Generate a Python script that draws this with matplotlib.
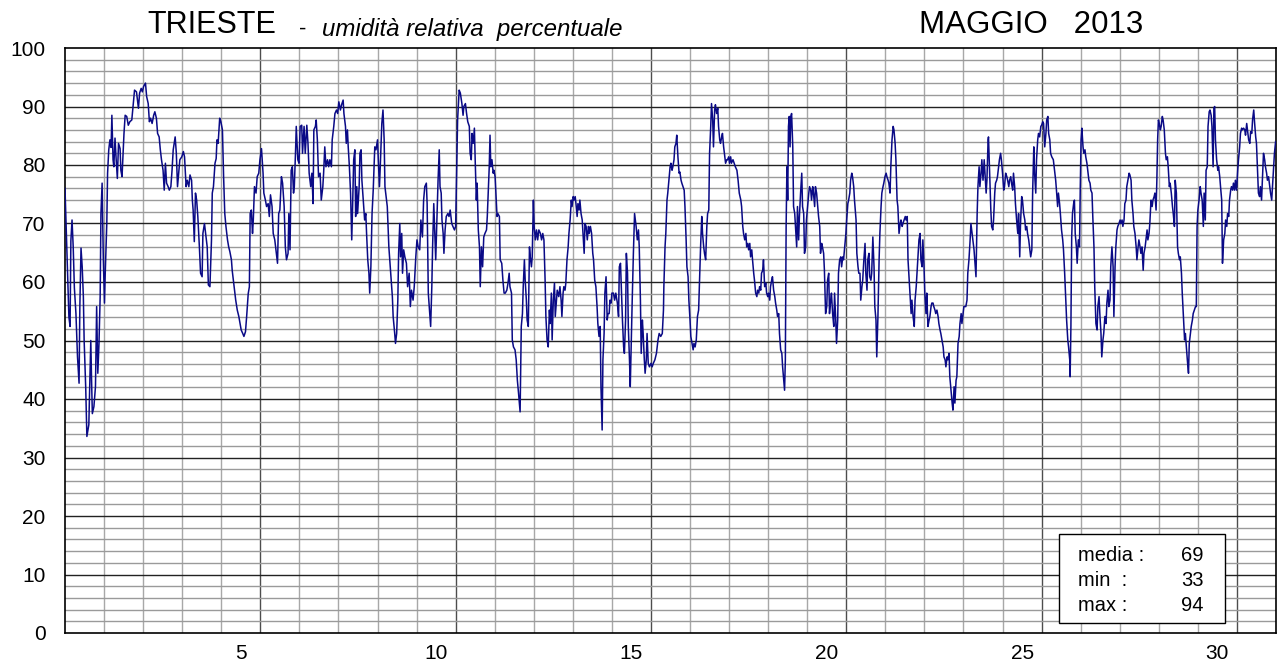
import matplotlib.pyplot as plt
from matplotlib.patches import Rectangle

# tempo in giorni dall'inizio del mese, umidita relativa (%)
giorno = [
    0.00, 0.04, 0.085, 0.10, 0.13, 0.15, 0.18, 0.21, 0.24, 0.28, 0.32, 0.36, 0.38, 0.41, 0.44, 0.47, 0.49, 0.53,
    0.56, 0.61, 0.66, 0.68, 0.70, 0.74, 0.78, 0.81, 0.84, 0.87, 0.90, 0.92, 0.95, 0.98, 1.01, 1.03, 1.07,
    1.09, 1.12, 1.15, 1.18, 1.20, 1.23, 1.25, 1.28, 1.31, 1.34, 1.37, 1.41, 1.43, 1.46, 1.48, 1.51, 1.54, 1.58,
    1.62, 1.66, 1.71, 1.75, 1.78, 1.83, 1.88, 1.91, 1.95, 1.98, 2.01, 2.06, 2.09, 2.13, 2.16, 2.19, 2.23, 2.27,
    2.30, 2.34, 2.37, 2.41, 2.44, 2.47, 2.51, 2.54, 2.57, 2.60, 2.64, 2.67, 2.71, 2.74, 2.77, 2.82, 2.85, 2.88,
    2.91, 2.94, 2.99, 3.03, 3.06, 3.10, 3.13, 3.17, 3.20, 3.24, 3.26, 3.28, 3.31, 3.34, 3.37, 3.40, 3.44, 3.47,
    3.51, 3.53, 3.57, 3.60, 3.64, 3.67, 3.71, 3.75, 3.77, 3.80, 3.84, 3.87, 3.89, 3.92, 3.96, 3.99, 4.03, 4.06,
    4.09, 4.12, 4.16, 4.19, 4.22, 4.26, 4.28, 4.31, 4.34, 4.37, 4.41, 4.45, 4.48, 4.51, 4.55, 4.58, 4.62, 4.65,
    4.69, 4.72, 4.74, 4.77, 4.80, 4.82, 4.85, 4.89, 4.92, 4.96, 4.99, 5.03,
    5.07, 5.09, 5.13, 5.16, 5.20, 5.23, 5.26, 5.30, 5.33, 5.37, 5.40, 5.44, 5.47, 5.50, 5.54, 5.57, 5.61, 5.64,
    5.67, 5.71, 5.73, 5.76, 5.79, 5.82, 5.85, 5.87, 5.90, 5.92, 5.96, 5.99, 6.02, 6.06, 6.08, 6.12, 6.15, 6.19,
    6.22, 6.25, 6.29, 6.32, 6.35, 6.37, 6.41, 6.43, 6.46, 6.49, 6.53, 6.56, 6.60, 6.62, 6.65, 6.68, 6.72, 6.75,
    6.78, 6.82, 6.84, 6.88, 6.91, 6.95, 6.98, 7.01, 7.05, 7.08, 7.12, 7.14, 7.18, 7.20, 7.23, 7.25, 7.28, 7.31,
    7.34, 7.36, 7.39, 7.42, 7.44, 7.47, 7.49, 7.53, 7.55, 7.58, 7.60, 7.64, 7.67, 7.70, 7.72, 7.75, 7.78, 7.80,
    7.83, 7.86, 7.89, 7.93, 7.96, 8.00, 8.02, 8.05, 8.07, 8.11, 8.14, 8.17, 8.19, 8.22, 8.25, 8.29, 8.32, 8.35,
    8.38, 8.40, 8.44, 8.46, 8.49, 8.52, 8.54, 8.57, 8.59, 8.62, 8.64, 8.67, 8.70, 8.74, 8.77, 8.81, 8.84, 8.87,
    8.91, 8.94, 8.98, 9.01, 9.04, 9.08, 9.11, 9.15, 9.18, 9.21, 9.25, 9.27, 9.30, 9.33, 9.36, 9.39, 9.41, 9.44,
    9.46, 9.49, 9.52, 9.55, 9.58, 9.60, 9.63, 9.65, 9.68, 9.70, 9.73, 9.76, 9.80, 9.83, 9.86, 9.90, 9.93, 9.97,
    10.00, 10.03, 10.05,
    10.09, 10.12, 10.16, 10.19, 10.21, 10.25, 10.28, 10.31, 10.35, 10.37, 10.40, 10.42, 10.45, 10.48, 10.50,
    10.53, 10.55, 10.58, 10.61, 10.63, 10.66, 10.69, 10.72, 10.75, 10.79, 10.81, 10.84, 10.86, 10.88, 10.90,
    10.93, 10.96, 10.98, 11.01, 11.03, 11.06, 11.08, 11.12, 11.14, 11.18, 11.21, 11.24, 11.27, 11.31, 11.34,
    11.37, 11.39, 11.43, 11.45, 11.48, 11.52, 11.55, 11.58, 11.61, 11.65, 11.68, 11.71, 11.73, 11.76, 11.78,
    11.81, 11.83, 11.86, 11.89, 11.91, 11.94, 11.96, 11.99, 12.01, 12.04, 12.07, 12.10, 12.13, 12.17, 12.20,
    12.23, 12.26, 12.29, 12.31, 12.34, 12.37, 12.40, 12.42, 12.45, 12.47, 12.50, 12.53, 12.55, 12.58, 12.60,
    12.64, 12.67, 12.70, 12.72, 12.75, 12.77, 12.80, 12.82, 12.85, 12.88, 12.90, 12.93, 12.96, 12.98, 13.01,
    13.03, 13.06, 13.08, 13.11, 13.13, 13.16, 13.18, 13.21, 13.24, 13.26, 13.29, 13.31, 13.34, 13.37, 13.40,
    13.42, 13.45, 13.48, 13.51, 13.53, 13.56, 13.59, 13.62, 13.64, 13.67, 13.70, 13.72, 13.75, 13.77, 13.80,
    13.82, 13.85, 13.88, 13.90, 13.93, 13.95, 13.98, 14.00, 14.04, 14.07, 14.10, 14.14, 14.17, 14.19, 14.22,
    14.24, 14.27, 14.30, 14.32, 14.35, 14.37, 14.40, 14.42, 14.45, 14.47, 14.50, 14.52, 14.55, 14.58, 14.60,
    14.62, 14.65, 14.68, 14.70, 14.73, 14.75, 14.78, 14.80, 14.83, 14.85, 14.88, 14.90, 14.93, 14.96, 15.00,
    15.03, 15.06, 15.10,
    15.14, 15.18, 15.21, 15.25, 15.29, 15.32, 15.33, 15.36, 15.38, 15.41, 15.43, 15.46, 15.49, 15.51, 15.54,
    15.56, 15.59, 15.61, 15.64, 15.66, 15.69, 15.72, 15.74, 15.77, 15.79, 15.82, 15.85, 15.87, 15.90, 15.92,
    15.95, 15.97, 16.00, 16.02, 16.05, 16.08, 16.10, 16.13, 16.16, 16.19, 16.22, 16.25, 16.27, 16.30, 16.32,
    16.35, 16.37, 16.40, 16.43, 16.45, 16.48, 16.50, 16.53, 16.55, 16.58, 16.60, 16.63, 16.65, 16.68, 16.71,
    16.73, 16.76, 16.78, 16.81, 16.83, 16.86, 16.89, 16.91, 16.94, 16.96, 16.99, 17.01, 17.04, 17.06, 17.10,
    17.13, 17.16, 17.20, 17.23, 17.26, 17.30, 17.32, 17.35, 17.37, 17.40, 17.43, 17.45, 17.48, 17.50, 17.53,
    17.55, 17.58, 17.60, 17.63, 17.65, 17.68, 17.71, 17.73, 17.76, 17.78, 17.81, 17.83, 17.86, 17.88, 17.91,
    17.94, 17.96, 17.99, 18.01, 18.04, 18.06, 18.09, 18.11, 18.14, 18.17, 18.19, 18.22, 18.24, 18.27, 18.29,
    18.32, 18.35, 18.37, 18.40, 18.42, 18.44, 18.46, 18.48, 18.50, 18.52, 18.54, 18.56, 18.58, 18.60, 18.63,
    18.65, 18.68, 18.70, 18.73, 18.75, 18.78, 18.80, 18.83, 18.86, 18.88, 18.91, 18.93, 18.96, 18.98, 19.01,
    19.04, 19.06, 19.09, 19.11, 19.14, 19.16, 19.19, 19.21, 19.24, 19.27, 19.29, 19.32, 19.34, 19.37, 19.39,
    19.42, 19.44, 19.47, 19.50, 19.52, 19.55, 19.57, 19.60, 19.62, 19.65, 19.68, 19.70, 19.73, 19.75, 19.78,
    19.80, 19.83, 19.86, 19.88, 19.91, 19.93, 19.96, 19.99, 20.01, 20.04, 20.06, 20.09, 20.11, 20.14, 20.16,
    20.19,
    20.21, 20.25, 20.27, 20.30, 20.32, 20.35, 20.37, 20.40, 20.42, 20.45, 20.48, 20.50, 20.53, 20.55, 20.58,
    20.60, 20.63, 20.65, 20.68, 20.71, 20.73, 20.76, 20.78, 20.81, 20.84, 20.86, 20.89, 20.91, 20.94, 20.96,
    20.99, 21.02, 21.04, 21.07, 21.09, 21.12, 21.14, 21.17, 21.20, 21.22, 21.25, 21.27, 21.30, 21.32, 21.35,
    21.38, 21.40, 21.43, 21.45, 21.48, 21.51, 21.53, 21.56, 21.58, 21.61, 21.63, 21.66, 21.68, 21.71, 21.74,
    21.76, 21.79, 21.81, 21.84, 21.86, 21.89, 21.91, 21.94, 21.96, 21.99, 22.01, 22.04, 22.06, 22.09, 22.12,
    22.14, 22.17, 22.19, 22.22, 22.24, 22.27, 22.29, 22.32, 22.35, 22.37, 22.40, 22.42, 22.45, 22.48, 22.50,
    22.53, 22.55, 22.58, 22.60, 22.63, 22.65, 22.68, 22.71, 22.73, 22.76, 22.78, 22.81, 22.83, 22.86, 22.89,
    22.91, 22.94, 22.96, 22.99, 23.01, 23.04, 23.06, 23.09, 23.11, 23.14, 23.17, 23.19, 23.22, 23.24, 23.27,
    23.30, 23.32, 23.35, 23.37, 23.40, 23.42, 23.45, 23.47, 23.50, 23.53, 23.55, 23.58, 23.60, 23.63, 23.64,
    23.67, 23.70, 23.72, 23.75, 23.77, 23.80, 23.82, 23.85, 23.87, 23.90, 23.92, 23.95, 23.97, 24.00, 24.03,
    24.05, 24.08, 24.11, 24.13, 24.16, 24.18, 24.21, 24.23, 24.26, 24.28, 24.31, 24.33, 24.36, 24.39, 24.41,
    24.44, 24.46, 24.49, 24.51, 24.54, 24.57, 24.59, 24.62, 24.64, 24.67, 24.69, 24.72, 24.75, 24.77, 24.80,
    24.82, 24.85, 24.87, 24.90, 24.92, 24.95, 24.98, 25.00, 25.03, 25.05, 25.08, 25.11, 25.13, 25.16, 25.18,
    25.21, 25.23,
    25.26, 25.30, 25.33, 25.36, 25.38, 25.41, 25.43, 25.46, 25.48, 25.51, 25.54, 25.56, 25.59, 25.62, 25.64,
    25.67, 25.69, 25.72, 25.73, 25.75, 25.77, 25.79, 25.82, 25.84, 25.86, 25.89, 25.91, 25.94, 25.97, 25.99,
    26.01, 26.03, 26.06, 26.08, 26.11, 26.13, 26.16, 26.19, 26.21, 26.24, 26.26, 26.29, 26.31, 26.34, 26.36,
    26.39, 26.42, 26.44, 26.47, 26.49, 26.52, 26.54, 26.57, 26.59, 26.62, 26.65, 26.67, 26.70, 26.72, 26.75,
    26.77, 26.80, 26.83, 26.85, 26.88, 26.90, 26.93, 26.95, 26.98, 27.01, 27.03, 27.06, 27.08, 27.11, 27.13,
    27.16, 27.18, 27.21, 27.24, 27.26, 27.29, 27.31, 27.34, 27.36, 27.39, 27.42, 27.44, 27.47, 27.49, 27.52,
    27.54, 27.57, 27.60, 27.62, 27.65, 27.67, 27.70, 27.72, 27.75, 27.77, 27.80, 27.83, 27.85, 27.88, 27.90,
    27.93, 27.95, 27.97, 27.99, 28.01, 28.04, 28.06, 28.09, 28.11, 28.14, 28.17, 28.19, 28.22, 28.24, 28.27,
    28.29, 28.32, 28.35, 28.37, 28.40, 28.42, 28.45, 28.48, 28.50, 28.53, 28.55, 28.58, 28.60, 28.63, 28.66,
    28.68, 28.71, 28.73, 28.76, 28.78, 28.81, 28.83, 28.86, 28.88, 28.91, 28.94, 28.96, 28.98, 29.00, 29.03,
    29.06, 29.08, 29.11, 29.14, 29.16, 29.19, 29.21, 29.24, 29.26, 29.29, 29.31, 29.34, 29.36, 29.39, 29.41,
    29.43, 29.45, 29.48, 29.51, 29.53, 29.56, 29.58, 29.61, 29.63, 29.66, 29.69, 29.71, 29.74, 29.76, 29.79,
    29.81, 29.84, 29.86, 29.89, 29.91, 29.94, 29.96, 29.99, 30.02, 30.04, 30.07, 30.09, 30.12, 30.14, 30.17,
    30.20, 30.22, 30.25, 30.27, 30.30, 30.33, 30.35, 30.38, 30.40, 30.43, 30.45, 30.48, 30.50, 30.53, 30.55,
    30.58, 30.60, 30.63, 30.66, 30.68, 30.71, 30.73, 30.76, 30.78, 30.81, 30.84, 30.86, 30.89, 30.91, 30.94,
    30.96, 30.99,
]

umidita = [
    76, 67, 57.5, 54, 52.4, 67, 70.6, 66, 59, 54.6, 47.2, 42.7, 55.8, 65.8, 62.6, 57.5, 50, 42,
    33.6, 35.6, 50, 43.2, 37.5, 38.7, 42.1, 55.8, 44.4, 49.5, 57.5, 71.7, 76.9, 64.3, 56.4, 61.5, 70,
    78.6, 82.6, 84.3, 83, 88.5, 80.9, 79.7, 84.6, 80.9, 77.7, 83.7, 82.8, 79.1, 78, 80.9, 85.4, 88.5, 88.3,
    86.8, 87.4, 87.7, 90.5, 92.8, 92.5, 89.7, 92.3, 93.1, 92.5, 93.4, 94, 91.7, 90.5, 87.4, 88, 87.1, 88.5,
    89.1, 88, 85.4, 84.8, 82.6, 80.9, 79.1, 75.7, 80.3, 76.9, 76.3, 75.7, 76.3, 79.1, 82.6, 84.8, 82, 76.3,
    78.6, 80.9, 81.4, 82.3, 81.4, 76.3, 77.4, 76.3, 78.3, 77.4, 74, 72.3, 66.9, 75.2, 74, 71.2, 66, 61.5,
    60.9, 68.3, 70, 68.3, 66, 59.5, 59.2, 67.2, 75.2, 76.3, 80.3, 81.1, 84.3, 83.7, 88, 87.4, 86, 78,
    71.7, 69.5, 67.2, 66, 65.2, 63.8, 62, 60.3, 58.6, 56.9, 55.2, 54.1, 52.9, 51.8, 51.2, 50.7, 51.5, 54.1,
    58, 59.2, 71.7, 72.3, 68.3, 70.6, 76.3, 75.2, 78, 78.6, 80.9, 82.8,
    78.6, 75.2, 74, 72.9, 73.4, 71.2, 74.9, 72.9, 68.3, 67.2, 65.5, 63.2, 71.7, 72.3, 78, 76.9, 72.9, 66,
    63.8, 64.9, 71.7, 65.5, 79.1, 79.7, 75.2, 76.3, 82, 86.6, 80.9, 80.3, 86.6, 86.8, 82, 86.6, 82, 86.8,
    83.7, 78.6, 76.3, 78.6, 73.4, 86, 86.6, 87.7, 84.3, 78, 78.6, 74, 76.3, 78.6, 83.1, 79.7, 80.9, 79.7,
    80.9, 79.7, 84.3, 86.6, 88.8, 89.4, 88.8, 90.8, 89.4, 90.3, 91.1, 88.8, 86.6, 83.7, 86, 83.1, 79.7, 75.2,
    67.2, 72.3, 80.9, 82.6, 71.2, 76.3, 71.7, 76.3, 82, 82.6, 77.4, 73.4, 70.6, 71.7, 68.3, 63.8, 61.5, 58.1,
    62.6, 71.7, 75.7, 83.1, 82.6, 84.3, 80.9, 76.3, 79.7, 87.1, 89.4, 84.3, 76.3, 74.6, 72.9, 66, 63.2, 60.3,
    57.5, 54.1, 51.2, 49.5, 51.2, 56.9, 64.9, 70, 64.3, 68.3, 61.5, 65.5, 64.3, 63.2, 59.2, 61.5, 55.8, 58.6,
    56.9, 59.2, 64.3, 67.2, 66, 65.5, 70.6, 67.7, 74, 76.3, 76.9, 73.4, 58.1, 55.2, 52.4, 59.2, 66, 73.4,
    69.5, 63.8, 70.6, 77.4, 82.6, 76.3, 75.2, 70.6, 68.3, 64.9, 68.9, 71.2, 71.7, 71.2, 72.3, 70, 69.5, 68.9,
    69.5, 80.9, 87.7,
    92.8, 92.3, 90.5, 88.5, 90, 90.5, 88.8, 87.4, 86.6, 82, 80.9, 85.4, 83.7, 86.3, 80.9,
    74, 76.9, 68.9, 66, 59.2, 66, 62.6, 67.7, 68.3, 68.9, 71.2, 76.3, 79.7, 85.1, 79.7,
    80.9, 78.6, 79.1, 78, 75.2, 71.2, 71.7, 71.2, 63.8, 63.2, 60.3, 58.1, 58.1, 58.6, 59.8,
    61.5, 59.2, 58.1, 50.1, 48.9, 48.4, 46.7, 43.2, 41, 37.8, 52.4, 54.6, 59.2, 63.8, 60.3,
    56.9, 53.5, 52.4, 66, 64.3, 62.6, 64.3, 74, 69.5, 67.2, 68.9, 67.2, 68.9, 68.3, 67.2,
    68.3, 67.2, 60.3, 54.1, 50.1, 48.9, 55.2, 52.9, 58.1, 50.1, 56.9, 59.8, 54.1, 56.9, 58.6,
    57.5, 59.2, 56.9, 54.1, 58.1, 59.2, 58.6, 59.8, 63.8, 66, 68.3, 70.6, 74, 72.9, 74.6,
    74, 74.6, 73.4, 71.2, 73.4, 72.3, 74, 71.7, 70.6, 68.3, 64.9, 70, 69.5, 67.2, 69.5,
    68.3, 69.5, 68.3, 64.9, 63.8, 60.3, 59.2, 55.8, 52.9, 50.7, 52.4, 42.1, 34.7, 46.7, 51.2,
    58.1, 60.9, 53.5, 54.6, 54.6, 56.9, 56.4, 58.1, 58.1, 56.9, 58.1, 56.4, 54.1, 62.6, 63.2,
    59.2, 53.5, 48.9, 47.8, 53.5, 64.9, 61.5, 52.4, 46.7, 42.1, 51.2, 56.9, 64.9, 71.7, 70.6,
    69.5, 67.2, 68.9, 66, 56.9, 47.8, 53.5, 51.2, 46.7, 44.4, 46.7, 51.2, 46.1, 45.5, 46.1,
    45.5, 46.1, 46.7,
    47.8, 50.1, 51.2, 50.7, 51.2, 55.2, 59.2, 66, 68.3, 74, 75.2, 77.4, 79.7, 80.3, 79.1,
    79.7, 80.9, 83.1, 83.7, 85.1, 81.4, 78.6, 78.8, 77.4, 76.9, 76.3, 75.7, 72.9, 67.2, 62.6,
    60.9, 56.9, 53.5, 50.7, 49.5, 48.4, 49.5, 48.9, 50.1, 54.1, 55.2, 61.5, 66, 71.2, 68.3,
    66, 64.9, 63.8, 69.5, 71.7, 72.3, 82, 86.6, 90.5, 87.7, 83.1, 89.4, 90.3, 88.8, 89.7,
    86.6, 84.3, 83.7, 84.8, 85.4, 83.1, 81.4, 80.3, 80.9, 80.9, 81.4, 80.3, 81.4, 80.3, 80.9,
    80.3, 79.7, 79.1, 77.4, 75.2, 74, 72.9, 69.5, 68.3, 67.2, 68.3, 66, 66.6, 65.5, 66.6,
    64.3, 65.5, 63.8, 61.5, 60.3, 58.1, 57.5, 58.6, 58.1, 59.2, 58.6, 61.5, 62, 63.8, 59.2,
    59.8, 58.1, 57.5, 58.1, 56.9, 59.2, 60.3, 60.9, 58.6, 57.5, 56.4, 55.2, 54.1, 54.6, 51.2,
    48.4, 47.8, 45.5, 43.2, 41.5, 46.7, 69.5, 79.7, 74, 86.6, 88.3, 83.1, 88.3, 88.8, 83.1,
    72.9, 71.7, 69.5, 66, 72.9, 67.2, 71.2, 75.2, 78.6, 72.9, 71.7, 64.9, 66, 70.6, 72.9,
    75.2, 76.3, 75.7, 74, 76.3, 75.2, 72.9, 76.3, 75.2, 72.9, 71.2, 69.5, 64.9, 66.6, 66,
    64.9, 62, 54.6, 55.8, 60.3, 61.5, 54.6, 56.9, 58.1, 54.6, 52.4, 58.1, 53.5, 49.5, 53.5,
    61.5, 63.8, 64.3, 62.6, 64.3, 63.8, 66, 68.3, 70.6, 73.4, 74, 75.2, 77.4, 78.6, 78,
    76.3,
    74, 70.6, 64.9, 62.6, 61.5, 61.5, 56.9, 59.2, 60.3, 63.8, 66.6, 61.5, 58.6, 63.8, 64.9,
    60.9, 60.3, 61.5, 67.7, 62.6, 55.8, 53.5, 47.2, 54.1, 63.8, 68.3, 72.9, 75.2, 76.3, 76.9,
    78, 78.6, 78, 77.4, 76.9, 75.2, 79.7, 84.3, 86.6, 86, 83.7, 80.9, 74, 72.9, 68.3,
    70, 70.6, 69.5, 70, 70.6, 71.2, 70.6, 71.2, 63.8, 60.3, 58.1, 54.6, 56.9, 54.1, 52.4,
    56.9, 59.2, 61.5, 64.9, 67.2, 68.3, 63.8, 62.6, 67.2, 62.6, 58.1, 54.6, 58.1, 52.4, 53.5,
    54.1, 55.8, 56.4, 56.4, 55.8, 55.2, 54.6, 55.2, 54.1, 52.9, 51.8, 51.2, 50.1, 48.9, 47.2,
    46.7, 45.5, 47.2, 46.7, 47.8, 43.8, 41.5, 39.3, 38.1, 42.1, 39.3, 43.2, 43.8, 49.5, 50.7,
    52.9, 54.6, 52.9, 54.6, 55.8, 55.8, 55.8, 56.9, 61.5, 63.8, 67.2, 70, 68.3, 67.2, 65.5,
    62.6, 60.9, 71.7, 76.3, 79.7, 76.3, 78.6, 80.9, 77.4, 80.9, 78.6, 75.2, 77.4, 84.3, 84.8,
    78.6, 72.3, 69.5, 68.9, 70.6, 75.2, 76.9, 77.4, 78, 79.7, 80.9, 82, 80.9, 78.6, 75.7,
    76.3, 78.6, 78, 77.4, 76.3, 77.4, 78, 76.9, 75.7, 78.6, 76.3, 73.4, 70.6, 68.3, 71.7,
    64.3, 70, 74.6, 74, 71.7, 70.6, 68.9, 69.5, 68.3, 67.2, 66, 64.3, 65.5, 75.2, 83.1,
    78.6, 75.2, 80.9, 84.3, 85.4, 84.8, 86.6, 86.8, 87.4, 87.1, 83.1, 85.4, 87.7, 88.3, 85.4,
    84.3, 82,
    81.4, 80.9, 79.1, 77.4, 75.7, 72.9, 75.2, 73.4, 71.7, 68.9, 67.2, 65.5, 61.5, 56.9, 53.5,
    50.1, 48.9, 46.7, 43.8, 52.4, 67.7, 71.7, 73.4, 74, 68.3, 66, 63.2, 67.2, 66, 76.3,
    84.3, 86.3, 83.1, 82, 82.6, 81.4, 80.3, 78.6, 77.4, 76.9, 75.7, 75.2, 71.2, 66, 59.2,
    52.9, 51.8, 55.8, 57.5, 54.6, 51.2, 47.2, 50.1, 51.2, 54.1, 52.9, 56.4, 58.6, 55.8, 56.9,
    62.6, 66, 62.6, 54.1, 62.6, 66, 68.9, 69.5, 70, 70.6, 70, 70.6, 69.5, 70.6, 73.4,
    74, 76.3, 77.4, 78.6, 78.3, 77.4, 74, 71.7, 69.5, 68.3, 66, 63.8, 66, 67.2, 66,
    64.9, 66, 62, 64.9, 66, 67.2, 68.9, 67.2, 68.3, 70, 74, 72.9, 74, 74.6, 75.2,
    72.3, 77.4, 84.3, 87.7, 87.1, 86, 86.6, 88.3, 87.7, 86, 82, 80.9, 81.4, 79.7, 76.3,
    76.9, 75.2, 72.9, 71.7, 69.5, 77.4, 75.2, 66, 64.9, 63.8, 64.3, 61.5, 58.1, 54.1, 50.1,
    51.2, 48.4, 46.7, 44.4, 49.5, 51.2, 52.4, 53.5, 54.6, 55.2, 55.8, 55.8, 69.5, 72.3, 74,
    76.3, 75.2, 74, 69.5, 75.2, 70.6, 79.1, 79.7, 86.6, 89.1, 89.4, 88.5, 86.6, 79.7, 89.7,
    90, 84.3, 80.9, 79.1, 79.7, 78, 76.3, 74, 63.2, 67.2, 68.3, 70.6, 69.5, 71.7, 71.2,
    74, 75.7, 76.3, 75.7, 76.9, 75.7, 77.4, 75.7, 79.1, 80.9, 83.1, 85.4, 86.3, 86, 86.3,
    86, 85.1, 87.1, 86, 84.3, 83.7, 85.7, 85.4, 87.7, 89.4, 87.4, 84.8, 83.7, 78.6, 75.2,
    74.6, 76.3, 74, 78.6, 82, 80.9, 79.7, 78.6, 77.4, 78, 76.3, 75.2, 74, 76.3, 79.7,
    82, 84,
]

etichette_giorni = [5, 10, 15, 20, 25, 30]
valori_y = [0, 10, 20, 30, 40, 50, 60, 70, 80, 90, 100]
media, minimo, massimo = 69, 33, 94

plt.rcParams['font.family'] = ['Liberation Sans', 'DejaVu Sans']

fig = plt.figure(figsize=(12.85, 6.65), dpi=100)
ax = fig.add_axes([65 / 1285, 32 / 665, 1211 / 1285, 585 / 665])

# griglia: una linea per giorno, una ogni 2 %
for d in range(1, 31):
    ax.axvline(d, color='#4d4d4d' if d % 5 == 0 else '#a8a8a8', lw=1, zorder=1)
for u in range(2, 100, 2):
    ax.axhline(u, color='#222222' if u % 10 == 0 else '#9a9a9a', lw=1, zorder=1)

ax.plot(giorno, umidita, color='#0a0a86', lw=1.1, zorder=3)

ax.set_xlim(0, 31)
ax.set_ylim(0, 100)
ax.set_xticks([g - 0.5 for g in etichette_giorni])
ax.set_xticklabels([str(g) for g in etichette_giorni])
ax.set_yticks(valori_y)
ax.set_yticklabels([str(v) for v in valori_y])
ax.tick_params(axis='both', length=0, labelsize=15)
ax.tick_params(axis='y', pad=14)
ax.tick_params(axis='x', pad=8)
for s in ax.spines.values():
    s.set_linewidth(1.2)
    s.set_color('black')

# riquadro statistiche
ax.add_patch(Rectangle((0.8208, 0.0171), 0.1371, 0.1521, transform=ax.transAxes,
                       facecolor='white', edgecolor='black', lw=1, zorder=5))
righe = [('media :', media), ('min  :', minimo), ('max :', massimo)]
for i, (nome, val) in enumerate(righe):
    y = [0.1333, 0.0889, 0.0462][i]
    ax.text(0.8365, y, nome, transform=ax.transAxes, fontsize=14.5, va='center', ha='left', zorder=6)
    ax.text(0.9405, y, str(val), transform=ax.transAxes, fontsize=14.5, va='center', ha='right', zorder=6)

# titoli
fig.text(212 / 1285, 1 - 33 / 665, 'TRIESTE', fontsize=22, ha='center', va='baseline')
fig.text(303 / 1285, 1 - 35 / 665, '-', fontsize=16, ha='center', va='baseline')
fig.text(322 / 1285, 1 - 36 / 665, 'umidità relativa  percentuale', fontsize=17.3, style='italic',
         ha='left', va='baseline')
fig.text(1031 / 1285, 1 - 33 / 665, 'MAGGIO   2013', fontsize=22.5, ha='center', va='baseline')

fig.savefig('out.png', dpi=100)
